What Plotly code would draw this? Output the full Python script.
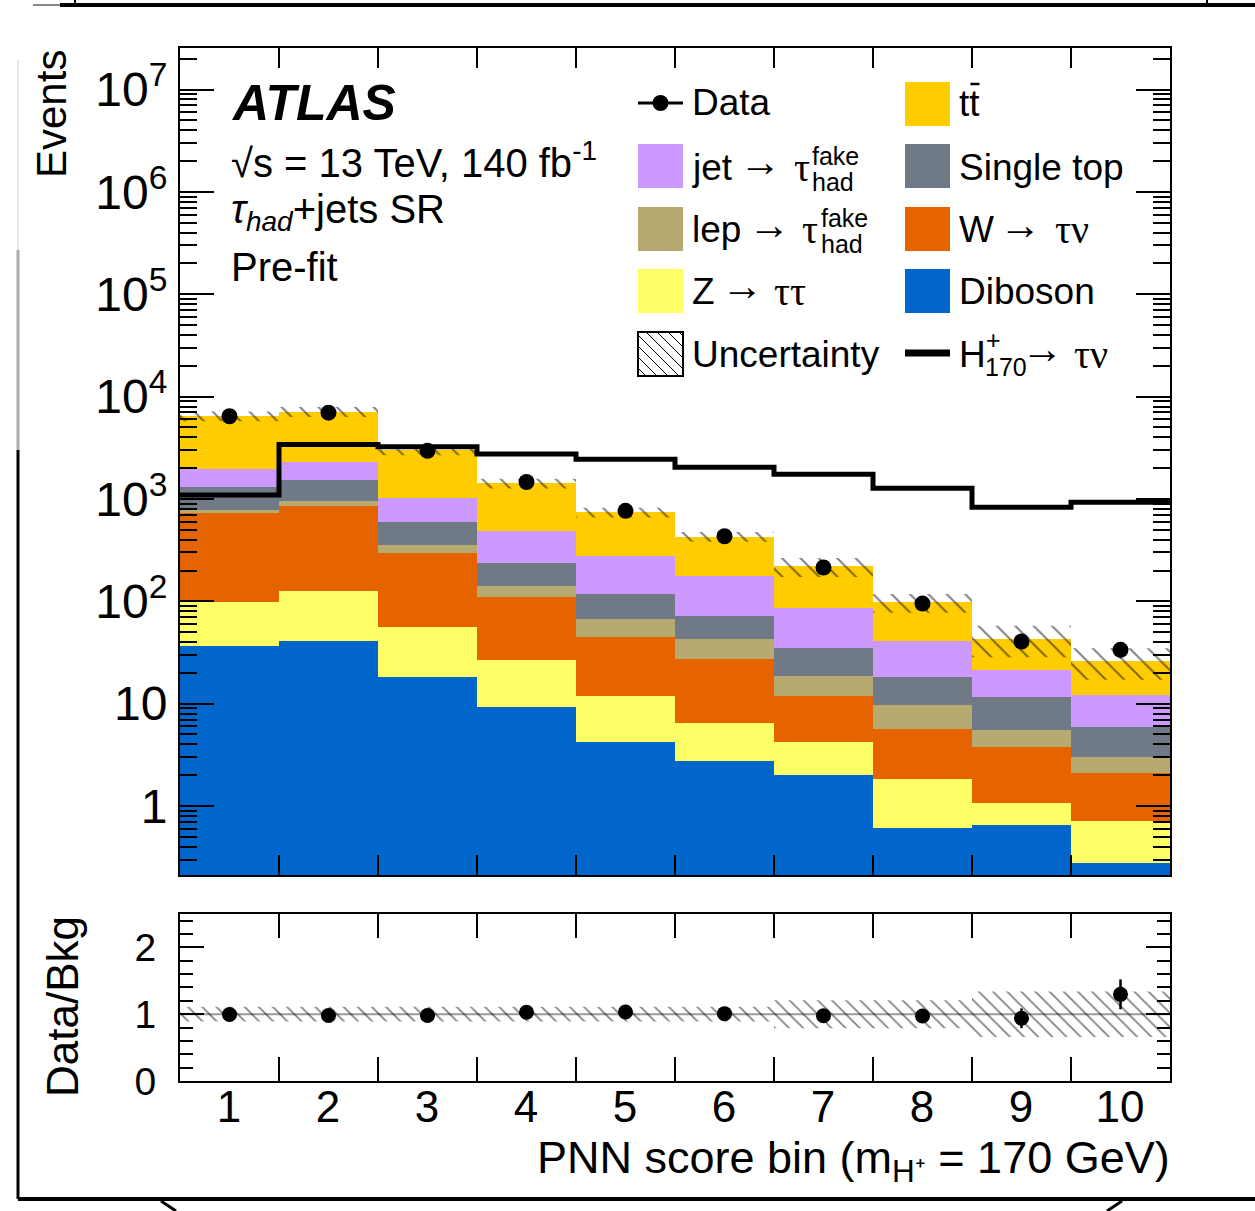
import numpy as np
import plotly.graph_objects as go

# ---- PNN score bins ----
bins = [1, 2, 3, 4, 5, 6, 7, 8, 9, 10]
bin_labels = ["1", "2", "3", "4", "5", "6", "7", "8", "9", "10"]

# ---- background predictions (events per bin), stacked bottom -> top ----
diboson    = [36.8, 41.2, 18.3, 9.3, 4.23, 2.78, 2.03, 0.61, 0.65, 0.28]
ztautau    = [62.7, 85.4, 38.1, 17.6, 7.7, 3.75, 2.23, 1.24, 0.41, 0.43]
wtaunu     = [625, 733, 239, 83, 32.5, 20.5, 7.7, 3.76, 2.69, 1.38]
lep_fake   = [56, 102, 58, 32, 23.1, 15.4, 6.7, 4.17, 1.79, 0.95]
single_top = [537, 569, 240, 97, 50, 29.4, 16.5, 8.5, 6.2, 2.93]
jet_fake   = [632, 780, 423, 249, 162.5, 106.8, 50.3, 22.6, 9.8, 6.08]
ttbar      = [4507, 4801, 1990, 934, 461, 250, 133.5, 56.8, 21.6, 13.85]

# ---- observed data, signal hypothesis and relative background uncertainty ----
data        = [6430, 6970, 2950, 1465, 765, 432, 214, 95, 40.5, 33.6]
signal_h170 = [1094, 3404, 3237, 2748, 2438, 2038, 1742, 1271, 830, 929]
rel_unc     = [0.11, 0.11, 0.11, 0.11, 0.11, 0.11, 0.21, 0.21, 0.34, 0.34]

# ---- y-axis tick labels ----
main_tickvals = [1, 10, 100, 1e3, 1e4, 1e5, 1e6, 1e7]
main_ticktext = ["1", "10", "10<sup>2</sup>", "10<sup>3</sup>", "10<sup>4</sup>",
                 "10<sup>5</sup>", "10<sup>6</sup>", "10<sup>7</sup>"]

COLORS = {
    "Diboson": "#0066CC",
    "Ztautau": "#FFFF66",
    "Wtaunu": "#E66400",
    "lep": "#B6AA70",
    "Single top": "#6F7A86",
    "jet": "#CC99FF",
    "ttbar": "#FFCC00",
}
SANS = "Liberation Sans, Arial, Helvetica, sans-serif"
SERIF = "Liberation Serif, Times New Roman, serif"

W, H = 1255, 1211
PL, PR, PT, PB = 180, 1170, 48, 1081  # plotting box in page pixels


def px(x):
    return (x - PL) / (PR - PL)


def py(y):
    return (PB - y) / (PB - PT)


components = [
    ("Diboson", diboson), ("Ztautau", ztautau), ("Wtaunu", wtaunu),
    ("lep", lep_fake), ("Single top", single_top), ("jet", jet_fake),
    ("ttbar", ttbar),
]
total = np.sum([np.array(v, dtype=float) for _, v in components], axis=0)
data_arr = np.array(data, dtype=float)
unc = np.array(rel_unc)
edges = np.arange(0.5, 11.0, 1.0)

fig = go.Figure()

# stacked background histogram
for name, vals in components:
    fig.add_trace(go.Bar(x=bins, y=vals, width=1.0, name=name,
                         marker=dict(color=COLORS[name], line=dict(width=0)),
                         xaxis="x", yaxis="y", showlegend=False))


def step_band(centre, rel):
    xs, up, lo = [], [], []
    for i in range(len(centre)):
        xs += [edges[i], edges[i + 1]]
        up += [centre[i] * (1 + rel[i])] * 2
        lo += [centre[i] * (1 - rel[i])] * 2
    return xs + xs[::-1], up + lo[::-1]


hatch = dict(shape="\\", fgcolor="black", bgcolor="rgba(0,0,0,0)")

# uncertainty band on the total background
bx, by = step_band(total, unc)
fig.add_trace(go.Scatter(x=bx, y=by, mode="lines", fill="toself",
                         fillcolor="rgba(0,0,0,0)", line=dict(width=0),
                         fillpattern=dict(hatch, size=13, solidity=0.15),
                         xaxis="x", yaxis="y", showlegend=False, hoverinfo="skip"))

# H+ (170 GeV) signal as a step line
sig_y = list(signal_h170) + [signal_h170[-1]]
fig.add_trace(go.Scatter(x=list(edges), y=sig_y, mode="lines", line_shape="hv",
                         line=dict(color="black", width=5),
                         xaxis="x", yaxis="y", showlegend=False))

# data points
fig.add_trace(go.Scatter(x=bins, y=data, mode="markers",
                         marker=dict(size=16, color="black"),
                         error_y=dict(type="data", array=np.sqrt(data_arr),
                                      color="black", thickness=2, width=0),
                         xaxis="x", yaxis="y", showlegend=False))

# ---- ratio panel ----
fig.add_trace(go.Scatter(x=[0.5, 10.5], y=[1, 1], mode="lines",
                         line=dict(color="#9a9a9a", width=2),
                         xaxis="x2", yaxis="y2", showlegend=False))
rx, ry = step_band(np.ones(10), unc)
fig.add_trace(go.Scatter(x=rx, y=ry, mode="lines", fill="toself",
                         fillcolor="rgba(0,0,0,0)", line=dict(width=0),
                         fillpattern=dict(hatch, size=10, solidity=0.17),
                         xaxis="x2", yaxis="y2", showlegend=False, hoverinfo="skip"))
ratio = data_arr / total
ratio_err = np.sqrt(data_arr) / total
fig.add_trace(go.Scatter(x=bins, y=ratio, mode="markers",
                         marker=dict(size=15, color="black"),
                         error_y=dict(type="data", array=ratio_err,
                                      color="black", thickness=2.5, width=0),
                         xaxis="x2", yaxis="y2", showlegend=False))

axis_common = dict(showline=True, linecolor="black", linewidth=2, mirror="allticks",
                   ticks="inside", tickcolor="black", tickwidth=2,
                   showgrid=False, zeroline=False)

minor_vals = [k * 10.0 ** d for d in range(-1, 8) for k in range(2, 10)]

fig.update_layout(
    width=W, height=H,
    margin=dict(l=PL, r=W - PR, t=PT, b=H - PB),
    paper_bgcolor="white", plot_bgcolor="white",
    barmode="stack", bargap=0,
    font=dict(family=SANS, color="black"),
    xaxis=dict(axis_common, domain=[0, 1], anchor="y", range=[0.5, 10.5],
               tickvals=list(edges[1:-1]), ticklen=20, showticklabels=False),
    yaxis=dict(axis_common, type="log", domain=[py(875), 1], anchor="x",
               range=[-0.674, 7.406], tickvals=main_tickvals, ticktext=main_ticktext,
               ticklen=34, tickfont=dict(size=48, family=SANS), ticklabelstandoff=1,
               minor=dict(tickvals=minor_vals, ticks="inside", ticklen=17,
                          tickwidth=2, tickcolor="black")),
    xaxis2=dict(axis_common, domain=[0, 1], anchor="y2", range=[0.5, 10.5],
                tickvals=list(edges[1:]), ticktext=bin_labels, ticklen=24,
                ticklabelshift=-50, ticklabelstandoff=-14,
                tickfont=dict(size=44, family=SANS)),
    yaxis2=dict(axis_common, domain=[0, py(914)], anchor="x2", range=[0, 2.5],
                tickvals=[0, 1, 2], ticktext=["0", "1", "2"], ticklen=24,
                tickfont=dict(size=39, family=SANS), ticklabelstandoff=14,
                minor=dict(tick0=0, dtick=0.2, ticks="inside", ticklen=13,
                           tickwidth=2, tickcolor="black")),
)


def label(x, y, text, size=37, anchor="left", family=SANS, **kw):
    fig.add_annotation(x=px(x), y=py(y), xref="paper", yref="paper", text=text,
                       showarrow=False, xanchor=anchor, yanchor="middle",
                       font=dict(size=size, family=family, color="black"), **kw)


def rect(x0, y0, x1, y1, color, line=None):
    fig.add_shape(type="rect", xref="paper", yref="paper",
                  x0=px(x0), x1=px(x1), y0=py(y1), y1=py(y0),
                  fillcolor=color, line=line or dict(width=0), layer="above")


def seg(x0, y0, x1, y1, width=2, color="black"):
    fig.add_shape(type="line", xref="paper", yref="paper",
                  x0=px(x0), x1=px(x1), y0=py(y0), y1=py(y1),
                  line=dict(color=color, width=width), layer="above")


# axis titles
fig.add_annotation(x=px(51), y=py(48), xref="paper", yref="paper", text="Events",
                   textangle=-90, showarrow=False, xanchor="center", yanchor="top",
                   font=dict(size=42, family=SANS, color="black"))
fig.add_annotation(x=px(62), y=py(1007), xref="paper", yref="paper", text="Data/Bkg",
                   textangle=-90, showarrow=False, xanchor="center", yanchor="middle",
                   font=dict(size=44, family=SANS, color="black"))
fig.add_annotation(x=px(1172), y=py(1160), xref="paper", yref="paper",
                   text="PNN score bin (m<sub>H\u207a</sub> = 170 GeV)",
                   showarrow=False, xanchor="right", yanchor="middle",
                   font=dict(size=45, family=SANS, color="black"))

# experiment labels
label(229, 103, "<b><i>ATLAS</i></b>", size=50)
label(229, 160, "\u221as = 13 TeV, 140 fb<sup>-1</sup>", size=40)
label(229, 212, "<i>\u03c4</i><sub><i>had</i></sub>+jets SR", size=40)
label(229, 267, "Pre-fit", size=40)

# ---- legend, left column ----
ARROW = 42
seg(638, 103, 683, 103, width=3)
fig.add_shape(type="circle", xref="paper", yref="paper",
              x0=px(652.5), x1=px(668.5), y0=py(111), y1=py(95),
              fillcolor="black", line=dict(width=0), layer="above")
label(690, 103, "Data")

rect(638, 144, 683, 188, COLORS["jet"])
label(690, 167, "jet")
label(737, 161, "\u2192", size=ARROW)
label(792, 167, "\u03c4", family=SERIF, size=40)
label(810, 156, "fake", size=25)
label(810, 182, "had", size=25)

rect(638, 207, 683, 251, COLORS["lep"])
label(690, 230, "lep")
label(746, 224, "\u2192", size=ARROW)
label(800, 230, "\u03c4", family=SERIF, size=40)
label(819, 218, "fake", size=25)
label(819, 244, "had", size=25)

rect(638, 269, 683, 313, COLORS["Ztautau"])
label(690, 291, "Z")
label(719, 285, "\u2192", size=ARROW)
label(772, 291, "\u03c4\u03c4", family=SERIF, size=40)

# uncertainty swatch: outlined box with diagonal hatch
ux0, uy0, ux1, uy1 = 638, 332, 683, 376
rect(ux0, uy0, ux1, uy1, "rgba(0,0,0,0)", line=dict(color="black", width=2))
for off in range(-36, 45, 11):
    # line y - uy0 = (x - ux0) - off, clipped to the box
    xa, xb = ux0 + max(off, 0), ux1 + min(off, 0)
    if xb - xa > 2:
        seg(xa, uy0 + xa - ux0 - off, xb, uy0 + xb - ux0 - off, width=1)
label(690, 354, "Uncertainty")

# ---- legend, right column ----
rect(905, 82, 950, 126, COLORS["ttbar"])
label(957, 104, "tt")
seg(970.5, 84, 979.5, 84, width=2.5)

rect(905, 144, 950, 188, COLORS["Single top"])
label(957, 167, "Single top")

rect(905, 207, 950, 251, COLORS["Wtaunu"])
label(957, 230, "W")
label(997, 224, "\u2192", size=ARROW)
label(1053, 230, "\u03c4\u03bd", family=SERIF, size=40)

rect(905, 269, 950, 313, COLORS["Diboson"])
label(957, 291, "Diboson")

seg(905, 353, 950, 353, width=7)
label(957, 354, "H")
label(984, 340, "+", size=25)
label(983, 367, "170", size=25)
label(1019, 348, "\u2192", size=ARROW)
label(1072, 354, "\u03c4\u03bd", family=SERIF, size=40)

# ---- surrounding page frame ----
seg(33, 5, 60, 5, width=2, color="#888888")
seg(60, 5, 1255, 5, width=4)
seg(75, 0, 75, 5, width=2)
seg(1207, 0, 1207, 5, width=2)
seg(18, 60, 18, 250, width=2, color="#e6e6e6")
seg(18, 250, 18, 450, width=3, color="#aaaaaa")
seg(18, 450, 18, 1199, width=3)
seg(18, 1199, 1255, 1199, width=4)
seg(161, 1201, 176, 1211, width=3)
seg(1122, 1201, 1107, 1211, width=3)

fig.write_html("out.html")
